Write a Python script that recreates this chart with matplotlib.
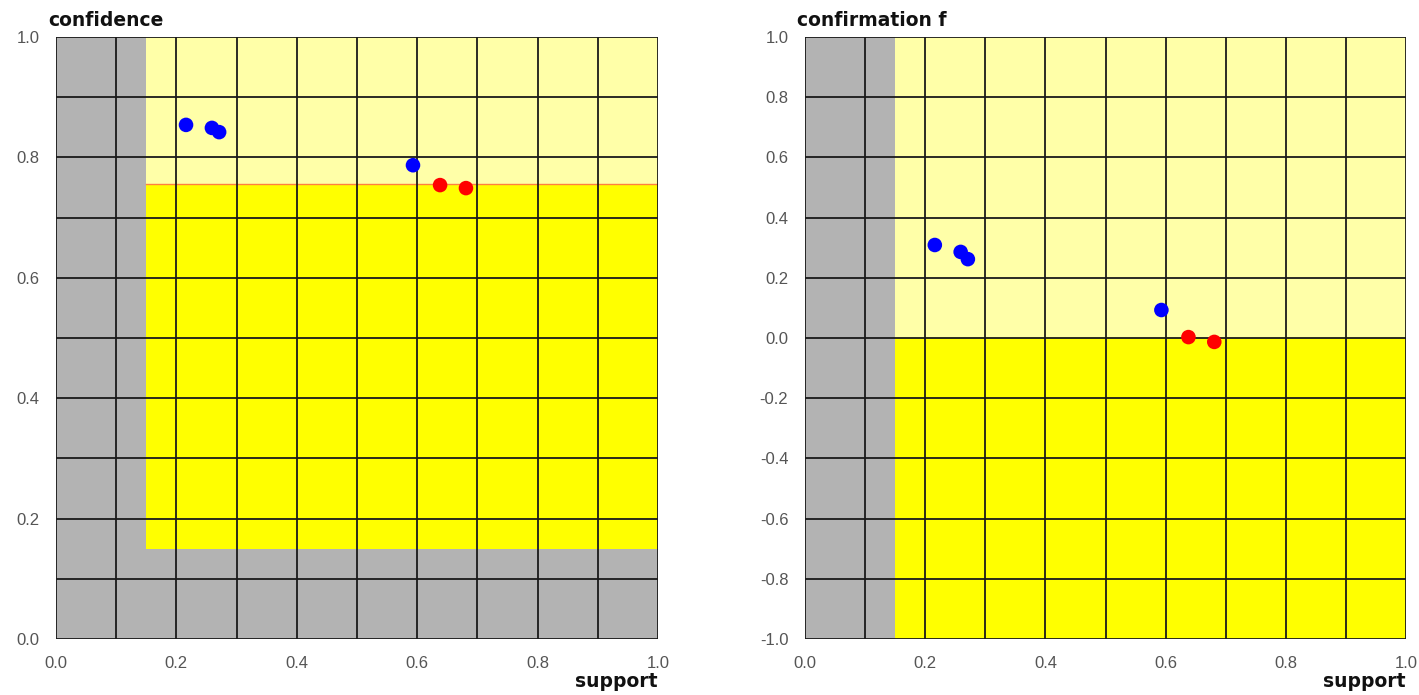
import matplotlib.pyplot as plt
import numpy as np

# rule data
support = [0.216, 0.259, 0.271, 0.593, 0.638, 0.681]
confidence = [0.854, 0.849, 0.842, 0.787, 0.754, 0.749]
confirmation = [0.309, 0.286, 0.262, 0.093, 0.003, -0.013]
colors = ['#0000ff', '#0000ff', '#0000ff', '#0000ff', '#ff0000', '#ff0000']

min_supp = 0.15
min_conf = 0.15
conf_threshold = 0.755
conf_f_threshold = 0.0

GRAY = '#b3b3b3'
LIGHT = '#ffffa8'
YELLOW = '#ffff00'

plt.rcParams['font.family'] = ['Liberation Sans', 'DejaVu Sans']

fig = plt.figure(figsize=(14.19, 6.95), dpi=100)
ax1 = fig.add_axes([56 / 1419, 1 - 639 / 695, 602 / 1419, 602 / 695])
ax2 = fig.add_axes([805 / 1419, 1 - 639 / 695, 601 / 1419, 602 / 695])

grid_x = np.round(np.arange(0, 1.01, 0.1), 2)

# left: support vs confidence
ax1.set_xlim(0, 1)
ax1.set_ylim(0, 1)
ax1.set_facecolor(GRAY)
ax1.fill_between([min_supp, 1], min_conf, conf_threshold, color=YELLOW, lw=0, zorder=0)
ax1.fill_between([min_supp, 1], conf_threshold, 1, color=LIGHT, lw=0, zorder=0)
ax1.plot([min_supp, 1], [conf_threshold, conf_threshold], color='#ff8040', lw=1, zorder=1)
for v in grid_x:
    ax1.axvline(v, color='#1a1a1a', lw=1.3, zorder=2)
    ax1.axhline(v, color='#1a1a1a', lw=1.3, zorder=2)
ax1.set_xticks(np.round(np.arange(0, 1.01, 0.2), 2))
ax1.set_yticks(np.round(np.arange(0, 1.01, 0.2), 2))
ax1.scatter(support, confidence, c=colors, s=110, zorder=5, edgecolors='none')

# right: support vs confirmation f
ax2.set_xlim(0, 1)
ax2.set_ylim(-1, 1)
ax2.set_facecolor(GRAY)
ax2.fill_between([min_supp, 1], -1, conf_f_threshold, color=YELLOW, lw=0, zorder=0)
ax2.fill_between([min_supp, 1], conf_f_threshold, 1, color=LIGHT, lw=0, zorder=0)
yticks2 = np.round(np.arange(-1, 1.01, 0.2), 2) + 0.0
for v in grid_x:
    ax2.axvline(v, color='#1a1a1a', lw=1.3, zorder=2)
for v in yticks2:
    ax2.axhline(v, color='#1a1a1a', lw=1.3, zorder=2)
ax2.set_xticks(np.round(np.arange(0, 1.01, 0.2), 2))
ax2.set_yticks(yticks2)
ax2.scatter(support, confirmation, c=colors, s=110, zorder=5, edgecolors='none')

fmt = plt.FuncFormatter(lambda v, p: '%.1f' % (round(v, 2) + 0.0))
for ax, ylab in [(ax1, 'confidence'), (ax2, 'confirmation f')]:
    for s in ax.spines.values():
        s.set_visible(False)
    ax.tick_params(length=0, labelsize=12, labelcolor='#555555', pad=12)
    ax.xaxis.set_major_formatter(fmt)
    ax.yaxis.set_major_formatter(fmt)
    ax.text(-0.013, 1.012, ylab, transform=ax.transAxes, fontsize=13.5,
            family='DejaVu Sans', fontweight='bold', ha='left', va='bottom',
            color='#111111')
    ax.text(1.0, -0.055, 'support', transform=ax.transAxes, fontsize=13.5,
            family='DejaVu Sans', fontweight='bold', ha='right', va='top',
            color='#111111')

fig.savefig('out.png', dpi=100)
